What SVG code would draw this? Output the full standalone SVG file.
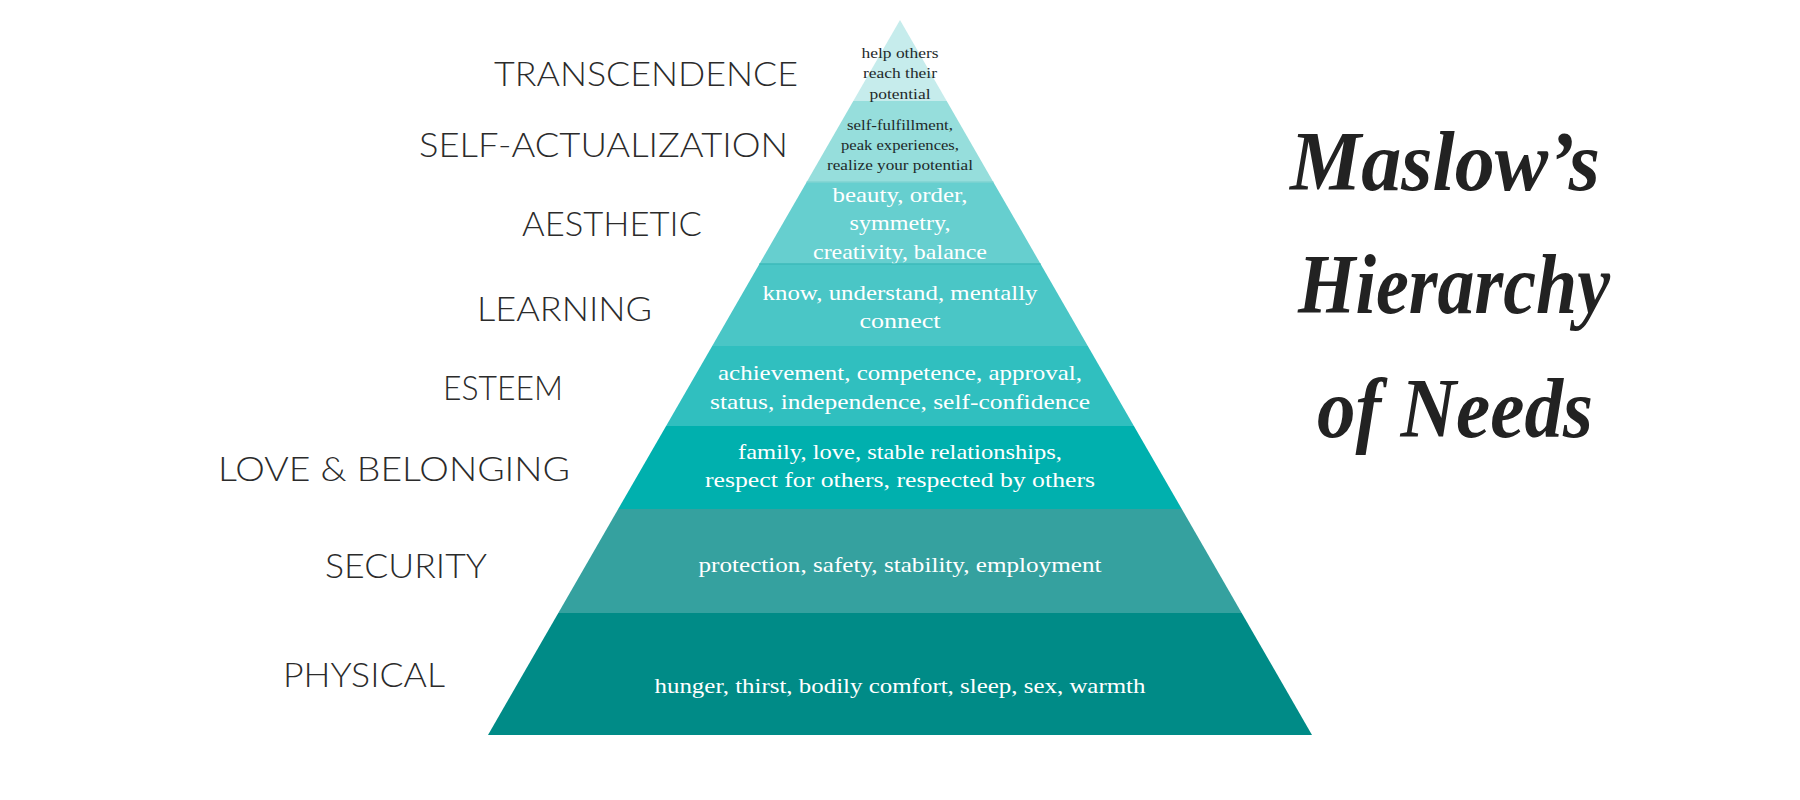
<svg xmlns="http://www.w3.org/2000/svg" width="1800" height="800" viewBox="0 0 1800 800">
<style>
.lbl{font-family:Lato,"Open Sans","Liberation Sans",sans-serif;font-weight:300;font-size:33px;fill:#2b2b2b;}
.bt{font-family:"Liberation Serif","DejaVu Serif",serif;font-size:22px;fill:#ffffff;text-anchor:middle;}
.bs{font-family:"Liberation Serif","DejaVu Serif",serif;font-size:15.5px;fill:#1e2a2a;text-anchor:middle;}
.ttl{font-family:"Liberation Serif","DejaVu Serif",serif;font-style:italic;font-weight:bold;font-size:84px;fill:#222222;}
.sep{stroke-width:1.5;}
</style>
<rect width="1800" height="800" fill="#ffffff"/>
<g id="physical">
<polygon points="558.3,613 1241.7,613 1312,735 488,735" fill="#008b87"/>
<text class="bt" x="900" y="693" textLength="491" lengthAdjust="spacingAndGlyphs">hunger, thirst, bodily comfort, sleep, sex, warmth</text>
<text class="lbl" x="283" y="687" textLength="162" lengthAdjust="spacingAndGlyphs">PHYSICAL</text>
</g>
<g id="security">
<polygon points="618.2,509 1181.8,509 1241.7,613 558.3,613" fill="#35a19f"/>
<text class="bt" x="900" y="572" textLength="403" lengthAdjust="spacingAndGlyphs">protection, safety, stability, employment</text>
<text class="lbl" x="325" y="578" textLength="162" lengthAdjust="spacingAndGlyphs">SECURITY</text>
</g>
<g id="love">
<polygon points="666.1,426 1133.9,426 1181.8,509 618.2,509" fill="#00b0ae"/>
<text class="bt" x="900" y="459" textLength="324" lengthAdjust="spacingAndGlyphs">family, love, stable relationships,</text>
<text class="bt" x="900" y="487" textLength="390" lengthAdjust="spacingAndGlyphs">respect for others, respected by others</text>
<text class="lbl" x="218" y="481" textLength="352" lengthAdjust="spacingAndGlyphs">LOVE &amp; BELONGING</text>
</g>
<g id="esteem">
<polygon points="712.2,346 1087.8,346 1133.9,426 666.1,426" fill="#30bfbf"/>
<text class="bt" x="900" y="380" textLength="364" lengthAdjust="spacingAndGlyphs">achievement, competence, approval,</text>
<text class="bt" x="900" y="409" textLength="380" lengthAdjust="spacingAndGlyphs">status, independence, self-confidence</text>
<text class="lbl" x="443" y="400" textLength="120" lengthAdjust="spacingAndGlyphs">ESTEEM</text>
</g>
<g id="learning">
<polygon points="759.4,264 1040.6,264 1087.8,346 712.2,346" fill="#4ac6c6"/>
<text class="bt" x="900" y="300" textLength="275" lengthAdjust="spacingAndGlyphs">know, understand, mentally</text>
<text class="bt" x="900" y="328" textLength="81" lengthAdjust="spacingAndGlyphs">connect</text>
<text class="lbl" x="477" y="321" textLength="175" lengthAdjust="spacingAndGlyphs">LEARNING</text>
</g>
<g id="aesthetic">
<polygon points="806.7,182 993.3,182 1040.6,264 759.4,264" fill="#66cfcf"/>
<text class="bt" x="900" y="202" textLength="135" lengthAdjust="spacingAndGlyphs">beauty, order,</text>
<text class="bt" x="900" y="230" textLength="101" lengthAdjust="spacingAndGlyphs">symmetry,</text>
<text class="bt" x="900" y="259" textLength="174" lengthAdjust="spacingAndGlyphs">creativity, balance</text>
<text class="lbl" x="522" y="236" textLength="180" lengthAdjust="spacingAndGlyphs">AESTHETIC</text>
</g>
<g id="self-actualization">
<polygon points="853.3,101 946.7,101 993.3,182 806.7,182" fill="#96dedc"/>
<text class="bs" x="900" y="130" textLength="106" lengthAdjust="spacingAndGlyphs">self-fulfillment,</text>
<text class="bs" x="900" y="150" textLength="118" lengthAdjust="spacingAndGlyphs">peak experiences,</text>
<text class="bs" x="900" y="170" textLength="146" lengthAdjust="spacingAndGlyphs">realize your potential</text>
<text class="lbl" x="419" y="157" textLength="369" lengthAdjust="spacingAndGlyphs">SELF-ACTUALIZATION</text>
</g>
<g id="transcendence">
<polygon points="900,20 946.7,101 853.3,101" fill="#c6ecec"/>
<text class="bs" x="900" y="58" textLength="77" lengthAdjust="spacingAndGlyphs">help others</text>
<text class="bs" x="900" y="78" textLength="74" lengthAdjust="spacingAndGlyphs">reach their</text>
<text class="bs" x="900" y="99" textLength="61" lengthAdjust="spacingAndGlyphs">potential</text>
<text class="lbl" x="494" y="86" textLength="304" lengthAdjust="spacingAndGlyphs">TRANSCENDENCE</text>
</g>
<g id="connectors">
<line class="sep" x1="806.7" y1="182" x2="993.3" y2="182" stroke="#7fd3d2"/>
<line class="sep" x1="759.4" y1="264" x2="1040.6" y2="264" stroke="#3dbaba"/>
</g>
<g id="title">
<text class="ttl" x="1290" y="190" textLength="310" lengthAdjust="spacingAndGlyphs">Maslow’s</text>
<text class="ttl" x="1298" y="313" textLength="312" lengthAdjust="spacingAndGlyphs">Hierarchy</text>
<text class="ttl" x="1317" y="437" textLength="276" lengthAdjust="spacingAndGlyphs">of Needs</text>
</g>
</svg>
